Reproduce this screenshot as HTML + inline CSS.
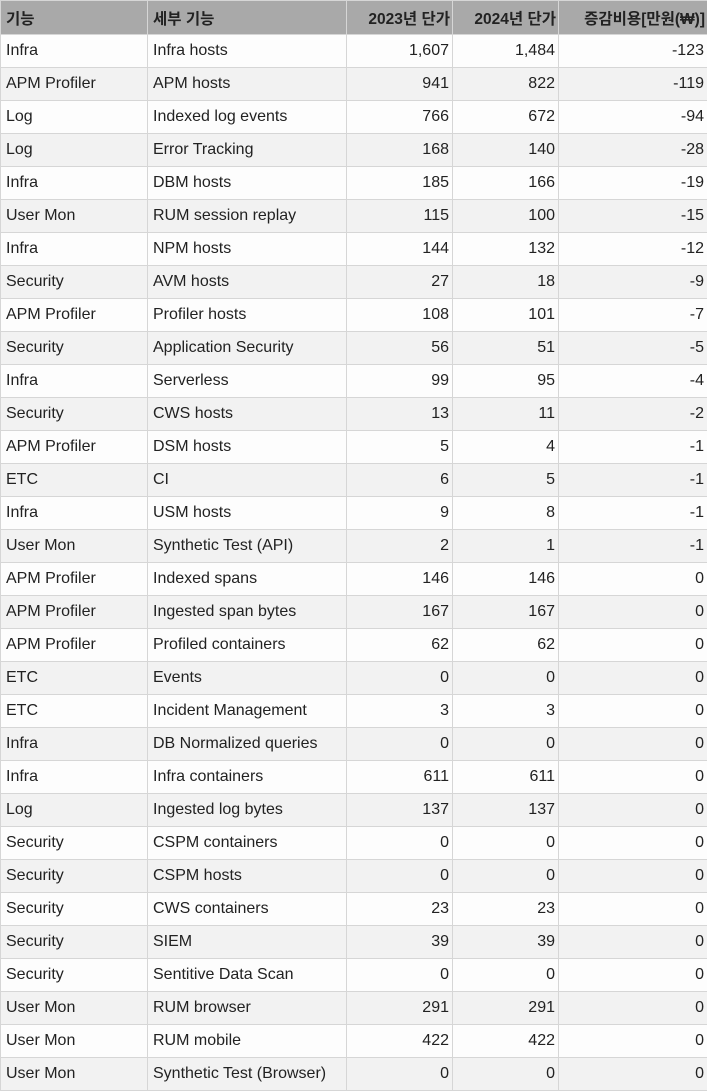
<!DOCTYPE html>
<html><head><meta charset="utf-8">
<style>
html,body{margin:0;padding:0;background:#fff;}
table{border-collapse:collapse;table-layout:fixed;width:707px;font-family:"Liberation Sans","Noto Sans CJK KR",sans-serif;font-size:16px;color:#222;}
td,th{border:1px solid #d6d6d6;padding:0 4px 0 5px;height:32px;white-space:nowrap;overflow:hidden;}
th{background:#a9a9a9;height:33px;font-weight:bold;text-align:left;color:#222;font-size:15.5px;}
th.n{text-align:right;padding-right:2px;}
td.n{text-align:right;padding-right:3px;}
tr:nth-child(odd) td{background:#fdfdfd;}
tr:nth-child(even) td{background:#f2f2f2;}
</style></head><body>
<table>
<colgroup><col style="width:147px"><col style="width:199px"><col style="width:106px"><col style="width:106px"><col style="width:149px"></colgroup>
<thead><tr>
<th>기능</th>
<th>세부 기능</th>
<th class="n">2023년 단가</th>
<th class="n">2024년 단가</th>
<th class="n">증감비용[만원(₩)]</th>
</tr></thead>
<tbody id="tb"></tbody>
</table>
<script>
const features=["Infra","APM Profiler","Log","Log","Infra","User Mon","Infra","Security","APM Profiler","Security","Infra","Security","APM Profiler","ETC","Infra","User Mon","APM Profiler","APM Profiler","APM Profiler","ETC","ETC","Infra","Infra","Log","Security","Security","Security","Security","Security","User Mon","User Mon","User Mon"];
const details=["Infra hosts","APM hosts","Indexed log events","Error Tracking","DBM hosts","RUM session replay","NPM hosts","AVM hosts","Profiler hosts","Application Security","Serverless","CWS hosts","DSM hosts","CI","USM hosts","Synthetic Test (API)","Indexed spans","Ingested span bytes","Profiled containers","Events","Incident Management","DB Normalized queries","Infra containers","Ingested log bytes","CSPM containers","CSPM hosts","CWS containers","SIEM","Sentitive Data Scan","RUM browser","RUM mobile","Synthetic Test (Browser)"];
const price2023=["1,607","941","766","168","185","115","144","27","108","56","99","13","5","6","9","2","146","167","62","0","3","0","611","137","0","0","23","39","0","291","422","0"];
const price2024=["1,484","822","672","140","166","100","132","18","101","51","95","11","4","5","8","1","146","167","62","0","3","0","611","137","0","0","23","39","0","291","422","0"];
const changes=["-123","-119","-94","-28","-19","-15","-12","-9","-7","-5","-4","-2","-1","-1","-1","-1","0","0","0","0","0","0","0","0","0","0","0","0","0","0","0","0"];
const tb=document.getElementById('tb');
for(let i=0;i<features.length;i++){
  const tr=document.createElement('tr');
  
  
  const vals=[features[i],details[i],price2023[i],price2024[i],changes[i]];
  const names=['feature-cell','detail-cell','price-2023-cell','price-2024-cell','change-cell'];
  vals.forEach((v,j)=>{
    const td=document.createElement('td');
    td.textContent=v;
    if(j>=2) td.className='n';
    
    
    tr.appendChild(td);
  });
  tb.appendChild(tr);
}
</script>
</body></html>
